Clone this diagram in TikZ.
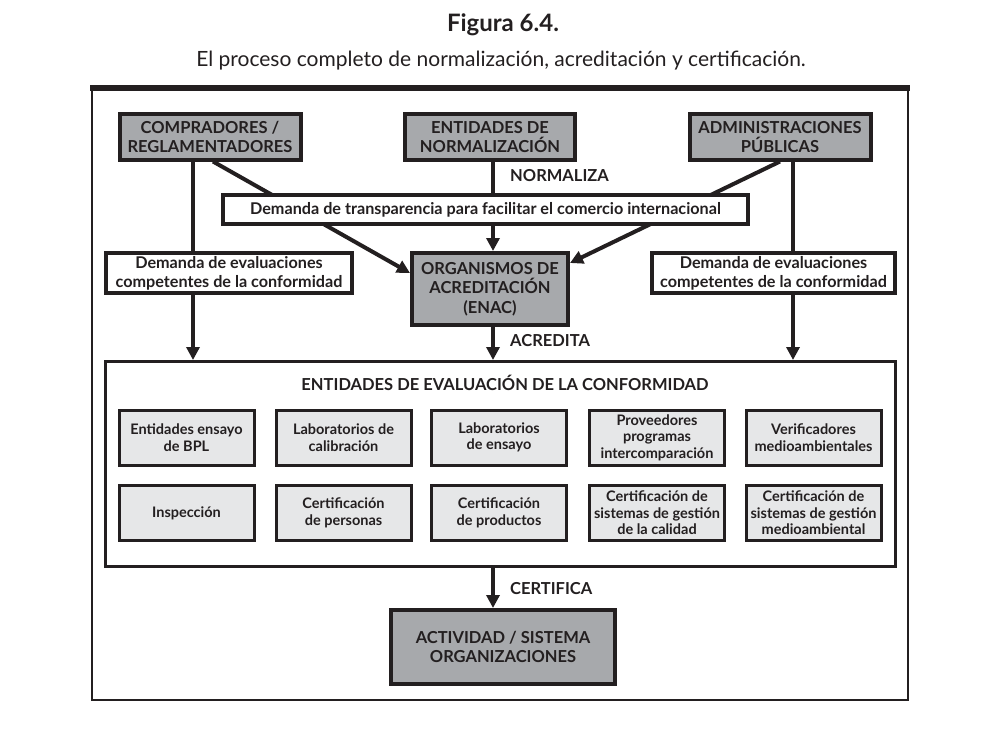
\documentclass[tikz,border=0pt]{standalone}
\usepackage{fontspec}
\setmainfont{Lato}
\usepackage{xcolor}
\usetikzlibrary{arrows.meta,backgrounds}

\definecolor{ink}{HTML}{231F20}
\definecolor{boxgray}{HTML}{A7A9AC}
\definecolor{cellgray}{HTML}{E6E7E8}

\tikzset{
  capsfont/.style={font=\bfseries\fontsize{16.5}{19.5}\selectfont},
  topbox/.style={draw=ink, line width=4pt, fill=boxgray, text=ink, align=center, inner sep=0pt, capsfont},
  demandbox/.style={draw=ink, line width=4pt, fill=white, text=ink, align=center, inner sep=0pt,
    font=\bfseries\fontsize{16.2}{19}\selectfont},
  cellbox/.style={draw=ink, line width=3pt, fill=cellgray, text=ink, align=center, inner sep=0pt,
    minimum width=135pt, font=\bfseries\fontsize{14.5}{16.5}\selectfont},
  flowlabel/.style={anchor=west, text=ink, inner sep=0pt, capsfont},
  link/.style={draw=ink, line width=4pt},
  arrowlink/.style={link, -{Triangle[width=13pt,length=13pt]}}
}

\begin{document}
\begin{tikzpicture}[x=1pt, y=-1pt]
\useasboundingbox (0,0) rectangle (1008,733);

% title
\node[text=ink, font=\bfseries\fontsize{24}{28}\selectfont] (title) at (503,25) {Figura 6.4.};
\node[text=ink, font=\fontsize{21}{25}\selectfont] (subtitle) at (501,61)
  {El proceso completo de normalización, acreditación y certificación.};

% frame
\draw[ink, line width=1.5pt] (92,88)--(92,700)--(908,700)--(908,88);
\draw[ink, line width=6pt] (90,88)--(910,88);

% top row
\node[topbox, minimum width=181pt, minimum height=45pt] (comp) at (210,137) {COMPRADORES /\\REGLAMENTADORES};
\node[topbox, minimum width=170pt, minimum height=45pt] (norm) at (490,137) {ENTIDADES DE\\NORMALIZACIÓN};
\node[topbox, minimum width=181pt, minimum height=45pt] (admin) at (780,137) {ADMINISTRACIONES\\PÚBLICAS};

\node[demandbox, minimum width=525pt, minimum height=29pt] (transp) at (485.5,209.5)
  {Demanda de transparencia para facilitar el comercio internacional};
\node[demandbox, minimum width=246pt, minimum height=40pt] (demleft) at (229,273)
  {Demanda de evaluaciones\\competentes de la conformidad};
\node[demandbox, minimum width=243pt, minimum height=40pt] (demright) at (773.5,273)
  {Demanda de evaluaciones\\competentes de la conformidad};

\node[topbox, minimum width=156pt, minimum height=72pt] (enac) at (490,289)
  {ORGANISMOS DE\\ACREDITACIÓN\\(ENAC)};

% evaluation entities
\node[draw=ink, line width=3pt, fill=white, minimum width=790pt, minimum height=205pt] (eval) at (500.5,464) {};
\node[text=ink, capsfont] (evaltitle) at (505,383) {ENTIDADES DE EVALUACIÓN DE LA CONFORMIDAD};

\foreach \x/\n/\t in {186.5/1/{Entidades ensayo\\de BPL}, 343.5/2/{Laboratorios de\\calibración},
  499/3/{Laboratorios\\de ensayo}, 657/4/{Proveedores\\programas\\intercomparación},
  813.5/5/{Verificadores\\medioambientales}}{
  \node[cellbox, minimum height=55pt] (cellA\n) at (\x,437.5) {\t};
}
\foreach \x/\n/\t in {186.5/1/{Inspección}, 343.5/2/{Certificación\\de personas},
  499/3/{Certificación\\de productos}, 657/4/{Certificación de\\sistemas de gestión\\de la calidad},
  813.5/5/{Certificación de\\sistemas de gestión\\medioambiental}}{
  \node[cellbox, minimum height=55pt] (cellB\n) at (\x,513) {\t};
}

\node[topbox, minimum width=224pt, minimum height=74pt] (org) at (503,647)
  {ACTIVIDAD / SISTEMA\\ORGANIZACIONES};

% flow labels
\node[flowlabel] (normaliza) at (510,176) {NORMALIZA};
\node[flowlabel] (acredita) at (510,341) {ACREDITA};
\node[flowlabel] (certifica) at (510,589) {CERTIFICA};

% connectors
\coordinate (lx) at (193,0);
\coordinate (mx) at (493,0);
\coordinate (rx) at (793,0);
\begin{pgfonlayer}{background}
\draw[arrowlink] (comp.south -| lx) -- (eval.north -| lx);
\draw[arrowlink] (admin.south -| rx) -- (eval.north -| rx);
\draw[arrowlink] (norm.south -| mx) -- (enac.north -| mx);
\draw[arrowlink] ([xshift=3pt]comp.south) -- ([yshift=16pt]enac.west);
\draw[arrowlink] (admin.south) -- ([yshift=26pt]enac.east);
\end{pgfonlayer}
\draw[arrowlink] (enac.south -| mx) -- (eval.north -| mx);
\draw[arrowlink] (eval.south -| mx) -- (org.north -| mx);

\end{tikzpicture}
\end{document}
